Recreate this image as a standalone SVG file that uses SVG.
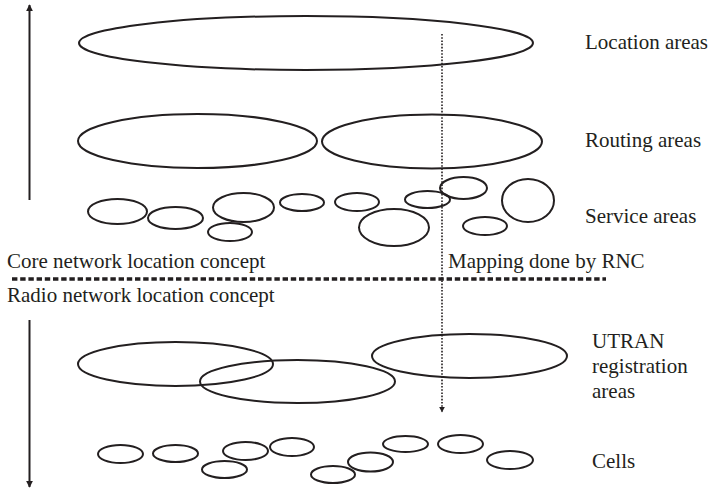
<svg xmlns="http://www.w3.org/2000/svg" width="711" height="488" viewBox="0 0 711 488">
<defs>
<marker id="ah" viewBox="0 0 10 10" refX="9" refY="5" markerWidth="7" markerHeight="7" markerUnits="userSpaceOnUse" orient="auto">
<path d="M0,0 L10,5 L0,10 z" fill="#231f20"/>
</marker>
<marker id="ah2" viewBox="0 0 10 10" refX="9" refY="5" markerWidth="6" markerHeight="6" markerUnits="userSpaceOnUse" orient="auto">
<path d="M0,0 L10,5 L0,10 z" fill="#231f20"/>
</marker>
</defs>
<rect width="711" height="488" fill="#fff"/>
<g id="connectors">
<line x1="29.5" y1="200" x2="29.5" y2="5" stroke="#231f20" stroke-width="2" marker-end="url(#ah)"/>
<line x1="29.5" y1="320" x2="29.5" y2="487" stroke="#231f20" stroke-width="2" marker-end="url(#ah)"/>
<line x1="442" y1="34" x2="442" y2="412" stroke="#231f20" stroke-width="1.6" stroke-dasharray="1.6 1.6" marker-end="url(#ah2)"/>
<line x1="12" y1="279" x2="606" y2="279" stroke="#231f20" stroke-width="3.5" stroke-dasharray="5.4 2.8"/>
</g>
<g id="location-areas">
<ellipse cx="306" cy="43" rx="227" ry="27" fill="none" stroke="#231f20" stroke-width="2"/>
<text x="585" y="49" font-family="Liberation Serif, Times New Roman, Times, serif" font-size="21" fill="#231f20">Location areas</text>
</g>
<g id="routing-areas">
<g fill="none" stroke="#231f20" stroke-width="2">
<ellipse cx="197.5" cy="141" rx="119.5" ry="27"/>
<ellipse cx="432" cy="141.5" rx="110" ry="27"/>
</g>
<text x="585" y="147" font-family="Liberation Serif, Times New Roman, Times, serif" font-size="21" fill="#231f20">Routing areas</text>
</g>
<g id="service-areas">
<g fill="none" stroke="#231f20" stroke-width="2">
<ellipse cx="117.5" cy="211.5" rx="29.5" ry="12.5"/>
<ellipse cx="175.5" cy="218" rx="27.5" ry="11"/>
<ellipse cx="243.5" cy="207.5" rx="30.5" ry="14.5"/>
<ellipse cx="230" cy="232" rx="22" ry="9"/>
<ellipse cx="302" cy="202.5" rx="22" ry="8.5"/>
<ellipse cx="357" cy="202" rx="22" ry="9"/>
<ellipse cx="394" cy="227.5" rx="35" ry="18.5"/>
<ellipse cx="427.5" cy="199.5" rx="22.5" ry="8.5"/>
<ellipse cx="463.5" cy="188" rx="23.5" ry="11"/>
<ellipse cx="528" cy="200.5" rx="26" ry="21.5"/>
<ellipse cx="485" cy="226" rx="22" ry="9"/>
</g>
<text x="585" y="223" font-family="Liberation Serif, Times New Roman, Times, serif" font-size="21" fill="#231f20">Service areas</text>
</g>
<g id="core-label">
<text x="7" y="268" font-family="Liberation Serif, Times New Roman, Times, serif" font-size="21" fill="#231f20">Core network location concept</text>
</g>
<g id="mapping-label">
<text x="448" y="268" font-family="Liberation Serif, Times New Roman, Times, serif" font-size="21" fill="#231f20">Mapping done by RNC</text>
</g>
<g id="radio-label">
<text x="7" y="302" font-family="Liberation Serif, Times New Roman, Times, serif" font-size="21" fill="#231f20">Radio network location concept</text>
</g>
<g id="utran-registration-areas">
<g fill="none" stroke="#231f20" stroke-width="2">
<ellipse cx="175.5" cy="364" rx="97.5" ry="22"/>
<ellipse cx="297.5" cy="381.5" rx="97.5" ry="21.5"/>
<ellipse cx="469.5" cy="356" rx="97.5" ry="22"/>
</g>
<text x="592" y="348" font-family="Liberation Serif, Times New Roman, Times, serif" font-size="21" fill="#231f20">UTRAN</text>
<text x="592" y="373" font-family="Liberation Serif, Times New Roman, Times, serif" font-size="21" fill="#231f20">registration</text>
<text x="592" y="398" font-family="Liberation Serif, Times New Roman, Times, serif" font-size="21" fill="#231f20">areas</text>
</g>
<g id="cells">
<g fill="none" stroke="#231f20" stroke-width="2">
<ellipse cx="120.5" cy="454" rx="22.5" ry="9"/>
<ellipse cx="175.5" cy="453.5" rx="22.5" ry="8.5"/>
<ellipse cx="245.5" cy="451" rx="22.5" ry="9"/>
<ellipse cx="224.5" cy="469.5" rx="22.5" ry="8.5"/>
<ellipse cx="292" cy="447" rx="22" ry="9"/>
<ellipse cx="333" cy="474.5" rx="22" ry="8.5"/>
<ellipse cx="370.5" cy="462" rx="22.5" ry="9.5"/>
<ellipse cx="405.5" cy="444" rx="22.5" ry="8"/>
<ellipse cx="460.5" cy="444" rx="22.5" ry="9"/>
<ellipse cx="510" cy="460" rx="23" ry="9"/>
</g>
<text x="592" y="468" font-family="Liberation Serif, Times New Roman, Times, serif" font-size="21" fill="#231f20">Cells</text>
</g>
</svg>
